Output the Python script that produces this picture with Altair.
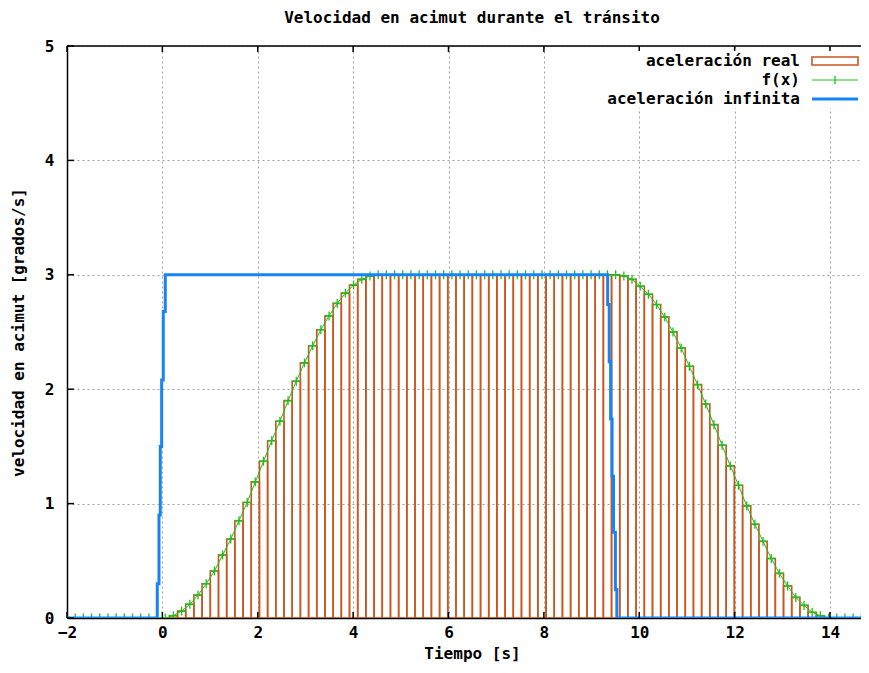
import altair as alt
import pandas as pd

# ---------------- data ----------------
x_samples = [
    -2.000, -1.828, -1.657, -1.485, -1.313, -1.141, -0.970, -0.798, -0.626, -0.455,
    -0.283, -0.111, 0.061, 0.232, 0.404, 0.576, 0.747, 0.919, 1.091, 1.263,
    1.434, 1.606, 1.778, 1.949, 2.121, 2.293, 2.465, 2.636, 2.808, 2.980,
    3.152, 3.323, 3.495, 3.667, 3.838, 4.010, 4.182, 4.354, 4.525, 4.697,
    4.869, 5.040, 5.212, 5.384, 5.556, 5.727, 5.899, 6.071, 6.242, 6.414,
    6.586, 6.758, 6.929, 7.101, 7.273, 7.444, 7.616, 7.788, 7.960, 8.131,
    8.303, 8.475, 8.646, 8.818, 8.990, 9.162, 9.333, 9.505, 9.677, 9.848,
    10.020, 10.192, 10.364, 10.535, 10.707, 10.879, 11.051, 11.222, 11.394, 11.566,
    11.737, 11.909, 12.081, 12.253, 12.424, 12.596, 12.768, 12.939, 13.111, 13.283,
    13.455, 13.626, 13.798, 13.970, 14.141, 14.313, 14.485, 14.657, 14.828, 15.000,
]
f_values = [
    0, 0, 0, 0, 0, 0, 0, 0, 0, 0,
    0, 0, 0.00, 0.02, 0.06, 0.12, 0.20, 0.30, 0.41, 0.55,
    0.69, 0.85, 1.01, 1.19, 1.37, 1.55, 1.72, 1.90, 2.07, 2.23,
    2.38, 2.52, 2.64, 2.75, 2.84, 2.91, 2.96, 2.99, 3.00, 3.00,
    3.00, 3.00, 3.00, 3.00, 3.00, 3.00, 3.00, 3.00, 3.00, 3.00,
    3.00, 3.00, 3.00, 3.00, 3.00, 3.00, 3.00, 3.00, 3.00, 3.00,
    3.00, 3.00, 3.00, 3.00, 3.00, 3.00, 3.00, 3.00, 2.99, 2.96,
    2.90, 2.83, 2.74, 2.63, 2.50, 2.36, 2.20, 2.04, 1.87, 1.69,
    1.51, 1.33, 1.16, 0.98, 0.82, 0.67, 0.52, 0.39, 0.28, 0.18,
    0.11, 0.05, 0.02, 0.00, 0, 0, 0, 0, 0, 0,
]
blue_t = [-2, -0.107, -0.107, -0.071, -0.071, -0.044, -0.044, -0.015, -0.015,
          0.019, 0.019, 0.061, 0.061, 9.337, 9.337, 9.37, 9.37, 9.40, 9.40,
          9.43, 9.43, 9.46, 9.46, 9.50, 9.50, 9.53, 9.53, 15]
blue_v = [0, 0, 0.3, 0.3, 0.9, 0.9, 1.5, 1.5, 2.08, 2.08,
          2.68, 2.68, 3.0, 3.0, 2.74, 2.74, 2.24, 2.24, 1.74, 1.74,
          1.24, 1.24, 0.75, 0.75, 0.25, 0.25, 0, 0]
x_ticks = [-2, 0, 2, 4, 6, 8, 10, 12, 14]
y_ticks = [0, 1, 2, 3, 4, 5]

title_text = "Velocidad en acimut durante el tránsito"
x_title = "Tiempo [s]"
y_title = "velocidad en acimut [grados/s]"
legend_labels = ["aceleración real", "f(x)", "aceleración infinita"]

# ---------------- styling ----------------
FONT = "DejaVu Sans Mono"
FS = 16
ORANGE = "#c9571f"
GREEN = "#1ec01e"
BLUE = "#1585f5"
W, H = 794, 572
XMAX = 14.65

df = pd.DataFrame({"t": x_samples, "v": f_values})
mids = [(a + b) / 2 for a, b in zip(x_samples[:-1], x_samples[1:])]
df["l"] = [x_samples[0] - (mids[0] - x_samples[0])] + mids
df["r"] = mids + [x_samples[-1] + (x_samples[-1] - mids[-1])]
bars_df = df[df.v > 0]

blue_df = pd.DataFrame({"t": blue_t, "v": blue_v, "i": list(range(len(blue_t)))})
xt_df = pd.DataFrame({"t": x_ticks})
yt_df = pd.DataFrame({"v": y_ticks})
one = pd.DataFrame({"a": [0]})

xs = alt.Scale(domain=[-2, XMAX], nice=False, zero=False)
ys = alt.Scale(domain=[0, 5], nice=False, zero=False)

xaxis = alt.Axis(values=x_ticks, format="d", grid=True, gridDash=[2, 3], gridColor="#a0a0a0",
                 ticks=False, domain=True, domainColor="black", domainWidth=1.5,
                 labelFont=FONT, labelFontSize=FS, labelFontWeight="bold",
                 labelColor="black", labelPadding=6, labelFlush=False,
                 title=x_title, titleFont=FONT, titleFontSize=FS, titleFontWeight="bold",
                 titleColor="black", titleX=405, titleY=35, titleBaseline="middle",
                 titleAlign="center")
yaxis = alt.Axis(values=y_ticks, format="d", grid=True, gridDash=[2, 3], gridColor="#a0a0a0",
                 ticks=False, domain=True, domainColor="black", domainWidth=1.5,
                 labelFont=FONT, labelFontSize=FS, labelFontWeight="bold",
                 labelColor="black", labelPadding=13, labelFlush=False,
                 title=y_title, titleFont=FONT, titleFontSize=FS, titleFontWeight="bold",
                 titleColor="black", titleX=-49, titleY=286, titleBaseline="middle",
                 titleAlign="center", titleAngle=270)

bars = alt.Chart(bars_df).mark_rect(filled=False, stroke=ORANGE, strokeWidth=1.6, clip=True).encode(
    x=alt.X("l:Q", scale=xs, axis=xaxis),
    x2="r:Q",
    y=alt.Y("v:Q", scale=ys, axis=yaxis),
    y2=alt.datum(0),
)
gline = alt.Chart(df).mark_line(color=GREEN, strokeWidth=1, clip=True).encode(
    x=alt.X("t:Q", scale=xs), y=alt.Y("v:Q", scale=ys))
gpts = alt.Chart(df).mark_point(shape="M-1,0L1,0M0,-1L0,1", size=80, filled=False,
                                stroke=GREEN, strokeWidth=1.3, opacity=1, clip=True).encode(
    x=alt.X("t:Q", scale=xs), y=alt.Y("v:Q", scale=ys))
bline = alt.Chart(blue_df).mark_line(color=BLUE, strokeWidth=3, clip=True).encode(
    x=alt.X("t:Q", scale=xs), y=alt.Y("v:Q", scale=ys), order="i:Q")

tick_b = alt.Chart(xt_df).mark_rule(color="black", strokeWidth=1.5).encode(
    x=alt.X("t:Q", scale=xs), y=alt.value(H), y2=alt.value(H - 6))
tick_t = alt.Chart(xt_df).mark_rule(color="black", strokeWidth=1.5).encode(
    x=alt.X("t:Q", scale=xs), y=alt.value(0), y2=alt.value(6))
tick_l = alt.Chart(yt_df).mark_rule(color="black", strokeWidth=1.5).encode(
    y=alt.Y("v:Q", scale=ys), x=alt.value(0), x2=alt.value(7))
top_border = alt.Chart(one).mark_rule(color="black", strokeWidth=1.5).encode(
    x=alt.value(0), x2=alt.value(W), y=alt.value(0))

legend_bg = alt.Chart(one).mark_rect(color="white").encode(
    x=alt.value(508), x2=alt.value(W), y=alt.value(5), y2=alt.value(62))
txt = dict(font=FONT, fontSize=FS, fontWeight="bold", align="right", baseline="middle", color="black")
leg1 = alt.Chart(one).mark_text(**txt).encode(x=alt.value(733), y=alt.value(15), text=alt.value(legend_labels[0]))
leg2 = alt.Chart(one).mark_text(**txt).encode(x=alt.value(733), y=alt.value(34), text=alt.value(legend_labels[1]))
leg3 = alt.Chart(one).mark_text(**txt).encode(x=alt.value(733), y=alt.value(53), text=alt.value(legend_labels[2]))
leg_rect = alt.Chart(one).mark_rect(filled=False, stroke=ORANGE, strokeWidth=1.6).encode(
    x=alt.value(745), x2=alt.value(791), y=alt.value(11), y2=alt.value(19))
leg_g = alt.Chart(one).mark_rule(color=GREEN, strokeWidth=1).encode(
    x=alt.value(745), x2=alt.value(791), y=alt.value(34))
leg_gp = alt.Chart(one).mark_rule(color=GREEN, strokeWidth=1.3).encode(
    x=alt.value(768), y=alt.value(30), y2=alt.value(38))
leg_b = alt.Chart(one).mark_rule(color=BLUE, strokeWidth=3).encode(
    x=alt.value(745), x2=alt.value(791), y=alt.value(53))

chart = alt.layer(
    bars, gline, gpts, bline, tick_b, tick_t, tick_l, top_border,
    legend_bg, leg1, leg2, leg3, leg_rect, leg_g, leg_gp, leg_b,
).properties(
    width=W, height=H,
    title=alt.TitleParams(title_text, font=FONT, fontSize=FS, fontWeight="bold",
                          anchor="middle", dx=8, offset=12, color="black"),
    autosize=alt.AutoSizeParams(type="none"),
    padding={"left": 59, "top": 38, "right": 0, "bottom": 47},
).configure_view(stroke=None).configure(background="white")

chart.save("out.html", embed_options={"renderer": "svg", "actions": False})
